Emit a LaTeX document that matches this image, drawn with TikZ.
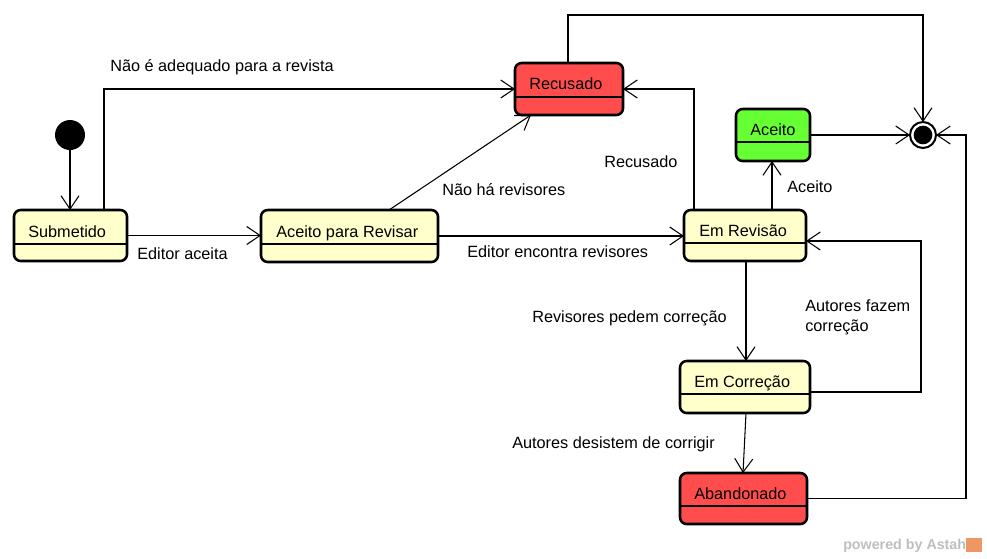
\documentclass[tikz,border=0pt]{standalone}
\usepackage{fontspec}
\setmainfont{Liberation Sans}
\usetikzlibrary{arrows.meta,fit}
\definecolor{stateyellow}{RGB}{255,255,204}
\definecolor{statered}{RGB}{255,77,77}
\definecolor{stategreen}{RGB}{102,255,51}
\definecolor{wmgray}{RGB}{190,190,190}
\definecolor{wmorange}{RGB}{240,150,100}
\tikzset{
  statebox/.style={draw=black, line width=1.9pt, rounded corners=5pt, inner sep=0pt, outer sep=0pt},
  compline/.style={line width=0.8pt},
  stext/.style={anchor=base west, inner sep=0pt, font=\fontsize{12.2}{14}\selectfont},
  lbl/.style={anchor=base west, inner sep=0pt, font=\fontsize{12.2}{14}\selectfont, align=left},
  arr/.style={line width=0.8pt, -{Straight Barb[length=10pt,width=13.5pt,line width=0.8pt]}},
  conn/.style={line width=0.8pt}
}
\begin{document}
\begin{tikzpicture}[x=0.75pt,y=-0.75pt]
\useasboundingbox (0,0) rectangle (987,558);
% initial and final states
\node[circle, fill=black, minimum size=22.5pt, inner sep=0pt] (ini) at (70,135) {};
\node[circle, draw=black, line width=1.5pt, fill=white, minimum size=19.5pt, inner sep=0pt, outer sep=0pt] (fin) at (923,135) {};
\node[circle, fill=black, minimum size=14pt, inner sep=0pt] (fininner) at (fin.center) {};
% states
\node[statebox, fill=stateyellow, fit={(14,210) (127,261)}] (sub) {};
\node[stext] (subt) at (28,237) {Submetido};
\node[statebox, fill=stateyellow, fit={(261,210) (438,262)}] (apr) {};
\node[stext] (aprt) at (276,237) {Aceito para Revisar};
\node[statebox, fill=statered, fit={(515,63) (623,115)}] (rec) {};
\node[stext] (rect) at (529,89) {Recusado};
\node[statebox, fill=stategreen, fit={(736,109) (810,161)}] (ace) {};
\node[stext] (acet) at (750,135) {Aceito};
\node[statebox, fill=stateyellow, fit={(684,210) (806,261)}] (rev) {};
\node[stext] (revt) at (699,236) {Em Revisão};
\node[statebox, fill=stateyellow, fit={(680,361) (810,413)}] (cor) {};
\node[stext] (cort) at (694,387) {Em Correção};
\node[statebox, fill=statered, fit={(680,473) (807,524)}] (aba) {};
\node[stext] (abat) at (694,499) {Abandonado};
% compartment lines
\draw[compline] (sub.west |- 0,244) -- (sub.east |- 0,244);
\draw[compline] (apr.west |- 0,244) -- (apr.east |- 0,244);
\draw[compline] (rec.west |- 0,97) -- (rec.east |- 0,97);
\draw[compline] (ace.west |- 0,142) -- (ace.east |- 0,142);
\draw[compline] (rev.west |- 0,243) -- (rev.east |- 0,243);
\draw[compline] (cor.west |- 0,394) -- (cor.east |- 0,394);
\draw[compline] (aba.west |- 0,506) -- (aba.east |- 0,506);
% transitions
\draw[arr] (ini.south) -- (ini.south |- sub.north);
\draw[arr] (sub.north -| 104,0) |- (rec.west);
\draw[arr] (sub.east) -- (sub.east -| apr.west);
\draw[arr] (apr.north -| 389,0) -- (rec.south -| 531,0);
\draw[arr] (apr.east) -- (apr.east -| rev.west);
\draw[arr] (rev.north -| 694,0) |- (rec.east);
\draw[arr] (rev.north -| 772,0) -- (ace.south -| 772,0);
\draw[arr] (rec.north -| 568,0) |- (fin.north |- 0,15) -- (fin.north);
\draw[arr] (ace.east) -- (fin.west);
\draw[arr] (rev.south -| 746,0) -- (cor.north -| 746,0);
\draw[arr] (cor.east |- 0,392) -| (921,241) -- (rev.east |- 0,241);
\draw[arr] (cor.south -| 746,0) -- (aba.north -| 743,0);
\draw[arr] (aba.east) -| (966,135) -- (fin.east);
% labels
\node[lbl] (l1) at (110,71) {Não é adequado para a revista};
\node[lbl] (l2) at (137,259) {Editor aceita};
\node[lbl] (l3) at (442,195) {Não há revisores};
\node[lbl] (l4) at (467,257) {Editor encontra revisores};
\node[lbl] (l5) at (604,167) {Recusado};
\node[lbl] (l6) at (787,192) {Aceito};
\node[lbl] (l7) at (532,322) {Revisores pedem correção};
\node[lbl, anchor=north west] (l8) at (805,299) {Autores fazem\\[1pt]correção};
\node[lbl] (l9) at (512,448) {Autores desistem de corrigir};
% watermark
\node[anchor=base west, inner sep=0pt, text=wmgray, font=\fontsize{10.7}{12}\selectfont\bfseries] (wm) at (843,549) {powered by Astah};
\fill[wmorange] (966,538) rectangle (982,552);
\end{tikzpicture}
\end{document}
